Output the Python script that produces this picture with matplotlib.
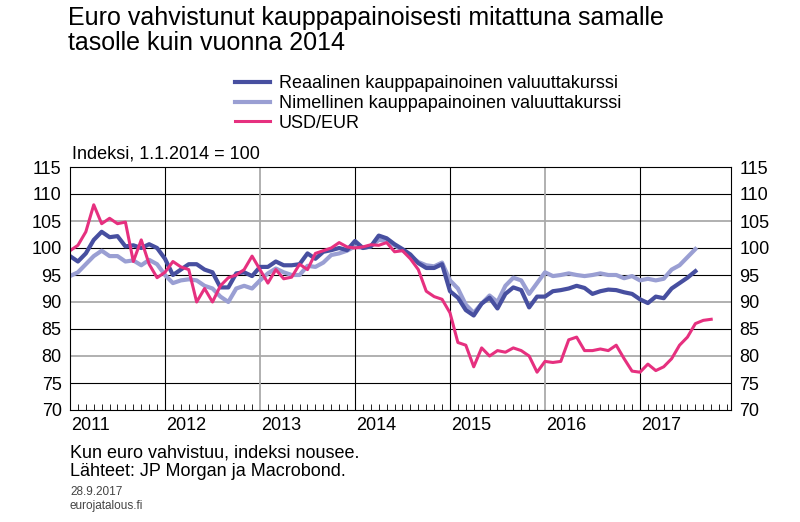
import numpy as np
import matplotlib.pyplot as plt
from matplotlib.ticker import MultipleLocator

plt.rcParams['font.family'] = ['Liberation Sans', 'DejaVu Sans']

# Monthly data, starting January 2011
usd_eur = [99.5, 100.5, 103, 108, 104.5, 105.5, 104.5, 104.8, 97.5, 101.5, 97, 94.5,
           95.5, 97.5, 96.5, 96, 90, 92.5, 90, 93, 94.5, 95, 96, 98.5,
           96, 93.5, 96, 94.3, 94.6, 97, 96, 99, 99.5, 100, 101, 100.2,
           100, 100.2, 100.6, 100.5, 101, 99.3, 99.5, 98, 96, 92, 91, 90.5,
           88, 82.5, 82, 78, 81.5, 80, 81, 80.7, 81.5, 81, 80, 77,
           79, 78.8, 79, 83, 83.5, 81, 81, 81.3, 81, 82, 79.5, 77.2,
           77, 78.5, 77.3, 78, 79.5, 82, 83.5, 86, 86.6, 86.8]
real = [98.5, 97.5, 99, 101.5, 103, 102, 102.2, 100.3, 100.5, 100, 100.7, 100,
        98, 95, 96, 97, 97, 96, 95.5, 92.7, 92.7, 95.3, 95.5, 94.8,
        96.5, 96.5, 97.5, 96.8, 96.8, 97, 99, 98, 99.3, 99.6, 100, 99.6,
        101.3, 100, 100.3, 102.3, 101.8, 100.7, 99.8, 98.8, 97.2, 96.3, 96.3, 97,
        92, 90.8, 88.5, 87.5, 89.7, 90.8, 88.8, 91.5, 92.7, 92.2, 89, 91,
        91, 92, 92.2, 92.5, 93, 92.6, 91.5, 92, 92.3, 92.2, 91.8, 91.5,
        90.5, 89.8, 91, 90.7, 92.5, 93.5, 94.5, 95.7]
nominal = [94.8, 95.5, 97, 98.5, 99.5, 98.5, 98.5, 97.5, 97.7, 96.8, 97.8, 97,
           95, 93.5, 94, 94.2, 94, 93, 92.5, 91, 90, 92.5, 93, 92.5,
           94, 95.3, 96.2, 95.5, 95, 95, 96.7, 96.5, 97.3, 98.7, 99, 99.5,
           100.3, 100, 100.3, 101.5, 101.3, 100.5, 99.6, 98.5, 97.4, 96.8, 96.6, 97.3,
           94, 92.5, 89.5, 88, 89.7, 91.2, 90, 93, 94.5, 94, 91.5, 93.5,
           95.5, 94.8, 95, 95.3, 95, 94.8, 95, 95.3, 95, 95, 94.4, 94.8,
           94, 94.3, 94, 94.3, 96, 96.8, 98.3, 99.8]
years = [2011, 2012, 2013, 2014, 2015, 2016, 2017]

def months(n):
    return 2011 + np.arange(n) / 12.0

fig = plt.figure(figsize=(8, 5.22), dpi=100)
ax = fig.add_axes([70/800, 112/522, 661/800, 243/522])

ax.plot(months(len(nominal)), nominal, color='#9a9fd3', lw=3, label='Nimellinen kauppapainoinen valuuttakurssi')
ax.plot(months(len(real)), real, color='#474fa0', lw=3, label='Reaalinen kauppapainoinen valuuttakurssi')
ax.plot(months(len(usd_eur)), usd_eur, color='#e6307f', lw=2.2, label='USD/EUR')

ax.set_xlim(2011, 2017 + 11.5/12)
ax.set_ylim(70, 115)
ax.yaxis.set_major_locator(MultipleLocator(5))
ax.set_xticks(years)
ax.set_xticklabels([])
ax.xaxis.set_minor_locator(MultipleLocator(1/12))
ax.tick_params(axis='x', which='both', direction='in', length=4)
ax.tick_params(axis='x', which='major', length=0)
ax.tick_params(axis='y', length=0, labelsize=13, labelright=True, pad=6)
for y in range(75, 115, 5):
    grey = y in (105, 90, 80)
    ax.axhline(y, color='#aaaaaa' if grey else 'black', lw=1.3 if grey else 0.8, zorder=0)
for yr in years[1:]:
    grey = yr in (2013, 2016)
    ax.axvline(yr, color='#aaaaaa' if grey else 'black', lw=1.3 if grey else 0.8, zorder=0)
for yr in years:
    ax.text(yr + 0.01, -0.03, str(yr), transform=ax.get_xaxis_transform(), fontsize=13, va='top', ha='left')

fig.text(68/800, 1 - 6/522, 'Euro vahvistunut kauppapainoisesti mitattuna samalle\ntasolle kuin vuonna 2014',
         fontsize=18, va='top', ha='left', linespacing=1.05)
handles, labels = ax.get_legend_handles_labels()
order = [1, 0, 2]
fig.legend([handles[i] for i in order], [labels[i] for i in order], loc='upper left',
           bbox_to_anchor=(228/800, 1 - 68/522), frameon=False, fontsize=13,
           handlelength=1.9, labelspacing=0.15, borderaxespad=0, handletextpad=0.5)
fig.text(72/800, 1 - 146/522, 'Indeksi, 1.1.2014 = 100', fontsize=13, va='top')
fig.text(70/800, 1 - 445/522, 'Kun euro vahvistuu, indeksi nousee.\nLähteet: JP Morgan ja Macrobond.',
         fontsize=13, va='top', linespacing=1.1)
fig.text(70/800, 1 - 486/522, '28.9.2017\neurojatalous.fi', fontsize=8.5, va='top', color='#444444', linespacing=1.2)

plt.savefig('out.png', dpi=100)
